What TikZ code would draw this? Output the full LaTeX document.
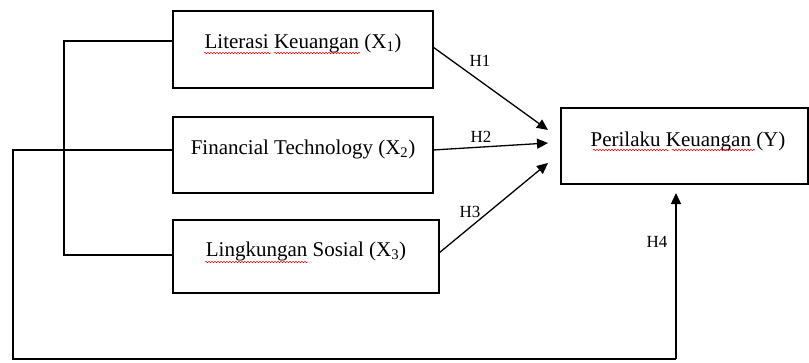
\documentclass[tikz,border=0pt]{standalone}
\usepackage{fontspec}
\setmainfont{Liberation Serif}
\usetikzlibrary{arrows.meta,decorations.pathmorphing}
\begin{document}
\begin{tikzpicture}[x=1pt,y=-1pt,
  box/.style={draw,line width=1.3pt,inner sep=0pt},
  ln/.style={line width=1.3pt},
  arr/.style={line width=1.3pt,-{Triangle[length=11pt,width=10pt]}},
  lbl/.style={font=\fontsize{17}{19}\selectfont,inner sep=0pt},
  txt/.style={font=\fontsize{21}{23}\selectfont,inner sep=0pt},
  squig/.style={draw=red,line width=0.5pt,decorate,decoration={snake,amplitude=0.7pt,segment length=3pt}}]
\useasboundingbox (0,0) rectangle (809,362);
% boxes
\draw[box] (173,11) rectangle (433,88);
\draw[box] (173,117) rectangle (433,193);
\draw[box] (173,220) rectangle (439,293);
\draw[box] (561,108) rectangle (808,184);
% box anchors
\coordinate (b1l) at (173,41);
\coordinate (b2l) at (173,150);
\coordinate (b3l) at (173,255);
\coordinate (b1r) at (433,47);
\coordinate (b2r) at (433,150);
\coordinate (b3r) at (439,253);
\coordinate (t1) at (548,130);
\coordinate (t2) at (548,143);
\coordinate (t3) at (548,163);
\coordinate (t4) at (676,193);
\coordinate (c1) at (64,41);
\coordinate (c3) at (64,255);
\coordinate (d1) at (13,150);
\coordinate (d2) at (13,359);
\coordinate (d3) at (676,359);
% texts
\node[txt] (x1) at (303,43) {Literasi Keuangan (X\textsubscript{1})};
\node[txt] (x2) at (303,149) {Financial Technology (X\textsubscript{2})};
\node[txt] (x3) at (306,251) {Lingkungan Sosial (X\textsubscript{3})};
\node[txt] (y) at (688,141) {Perilaku Keuangan (Y)};
% labels
\node[lbl] (h1) at (480,61) {H1};
\node[lbl] (h2) at (481,137) {H2};
\node[lbl] (h3) at (470,212) {H3};
\node[lbl] (h4) at (657,242) {H4};
% connectors
\draw[ln] (b1l) -- (c1) -- (c3) -- (b3l);
\draw[ln] (b2l) -- (d1) -- (d2) -- (d3);
\draw[arr] (d3) -- (t4);
\draw[arr] (b1r) -- (t1);
\draw[arr] (b2r) -- (t2);
\draw[arr] (b3r) -- (t3);
% spell-check squiggles
\draw[squig] (204,53) -- (271,53);
\draw[squig] (274,53) -- (360,53);
\draw[squig] (205,262) -- (308,262);
\draw[squig] (593,150) -- (669,150);
\draw[squig] (672,150) -- (755,150);
\end{tikzpicture}
\end{document}
